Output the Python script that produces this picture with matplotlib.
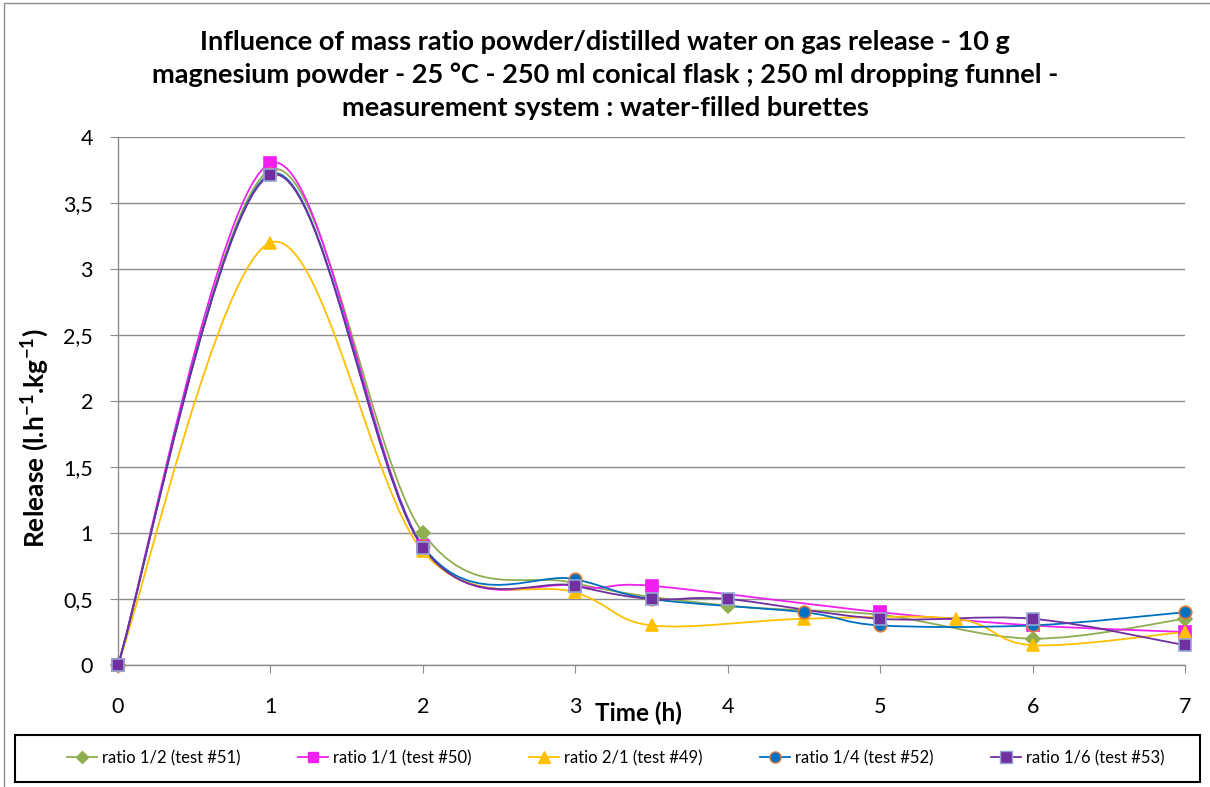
import numpy as np
import matplotlib
matplotlib.use("Agg")
import matplotlib.pyplot as plt
from matplotlib.path import Path
from matplotlib.patches import PathPatch, Rectangle
from matplotlib.lines import Line2D
from matplotlib.ticker import FixedLocator, FixedFormatter

plt.rcParams['font.family'] = ['Lato', 'DejaVu Sans']
plt.rcParams['mathtext.fontset'] = 'custom'
plt.rcParams['mathtext.rm'] = 'Lato'
plt.rcParams['mathtext.bf'] = 'Lato:bold'

# ---- data ----
title = ("Influence of mass ratio powder/distilled water on gas release - 10 g\n"
         "magnesium powder - 25 \u00b0C - 250 ml conical flask ; 250 ml dropping funnel -\n"
         "measurement system : water-filled burettes")
xlabel = "Time (h)"
ylabel = r"Release (l.h$^{\mathbf{-1}}$.kg$^{\mathbf{-1}}$)"

xticks = [0, 1, 2, 3, 4, 5, 6, 7]
xtick_labels = ["0", "1", "2", "3", "4", "5", "6", "7"]
yticks = [0, 0.5, 1, 1.5, 2, 2.5, 3, 3.5, 4]
ytick_labels = ["0", "0,5", "1", "1,5", "2", "2,5", "3", "3,5", "4"]

names = ["ratio 1/2 (test #51)", "ratio 1/1 (test #50)", "ratio 2/1 (test #49)",
         "ratio 1/4 (test #52)", "ratio 1/6 (test #53)"]

t_51 = [0, 1, 2, 3, 4, 5, 6, 7]
r_51 = [0, 3.75, 1.0, 0.62, 0.45, 0.38, 0.2, 0.35]

t_50 = [0, 1, 2, 3, 3.5, 5, 6, 7]
r_50 = [0, 3.8, 0.9, 0.6, 0.6, 0.4, 0.3, 0.25]

t_49 = [0, 1, 2, 3, 3.5, 4.5, 5.5, 6, 7]
r_49 = [0, 3.2, 0.86, 0.55, 0.3, 0.35, 0.35, 0.15, 0.25]

t_52 = [0, 1, 2, 3, 3.5, 4.5, 5, 6, 7]
r_52 = [0, 3.72, 0.9, 0.65, 0.5, 0.4, 0.3, 0.3, 0.4]

t_53 = [0, 1, 2, 3, 3.5, 4, 5, 6, 7]
r_53 = [0, 3.71, 0.89, 0.6, 0.5, 0.5, 0.35, 0.35, 0.15]

series_t = [t_51, t_50, t_49, t_52, t_53]
series_r = [r_51, r_50, r_49, r_52, r_53]

# ---- styles ----
line_colors = ["#8FAE4F", "#EE22EE", "#FFC000", "#0070C0", "#7030A0"]
face_colors = ["#8FAE4F", "#F01EF0", "#FFC000", "#0070C0", "#7030A0"]
edge_colors = ["#8FAE4F", "#F01EF0", "#FFC000", "#E07B39", "#95A6D5"]
markers = ["D", "s", "^", "o", "s"]
msizes = [7.5, 8.5, 9, 9, 9]


def smooth_path(xs, ys):
    """Excel-like smoothed line: Catmull-Rom style cubic Bezier segments."""
    p = np.column_stack([xs, ys]).astype(float)
    n = len(p)
    verts = [p[0]]
    codes = [Path.MOVETO]
    for i in range(n - 1):
        p0 = p[i - 1] if i > 0 else p[i]
        p1 = p[i]
        p2 = p[i + 1]
        p3 = p[i + 2] if i + 2 < n else p[i + 1]
        c1 = p1 + (p2 - p0) / 6.0
        c2 = p2 - (p3 - p1) / 6.0
        verts += [c1, c2, p2]
        codes += [Path.CURVE4] * 3
    return Path(verts, codes)


W, H = 1210, 787
fig = plt.figure(figsize=(W / 100, H / 100), dpi=100)
fig.patch.set_facecolor("white")
fig.patches.append(Rectangle((4 / W, -0.01), 1.02, 1 - 3 / H + 0.01,
                             transform=fig.transFigure, fill=False,
                             edgecolor="#8C8C8C", lw=1.0))

ax = fig.add_axes([118 / W, 1 - 665 / H, (1185 - 118) / W, (665 - 137) / H])
ax.set_xlim(0, 7)
ax.set_ylim(0, 4)

for t, r, lc, fc, ec, m, ms in zip(series_t, series_r, line_colors, face_colors,
                                  edge_colors, markers, msizes):
    patch = PathPatch(smooth_path(t, r), facecolor="none", edgecolor=lc, lw=1.3,
                      transform=ax.transData, clip_on=False)
    ax.add_patch(patch)
    ax.plot(t, r, linestyle="none", marker=m, markersize=ms, markerfacecolor=fc,
            markeredgecolor=ec, markeredgewidth=1.2, clip_on=False, zorder=3)

ax.yaxis.set_major_locator(FixedLocator(yticks))
ax.yaxis.set_major_formatter(FixedFormatter(ytick_labels))
ax.xaxis.set_major_locator(FixedLocator(xticks))
ax.xaxis.set_major_formatter(FixedFormatter(xtick_labels))

ax.grid(axis="y", color="#8C8C8C", lw=1.0)
ax.set_axisbelow(True)
for s in ["top", "right"]:
    ax.spines[s].set_visible(False)
for s in ["left", "bottom"]:
    ax.spines[s].set_color("#8C8C8C")
    ax.spines[s].set_linewidth(1.0)
ax.tick_params(axis="y", length=6, color="#8C8C8C", pad=12, labelsize=15.5)
ax.tick_params(axis="x", length=6, color="#8C8C8C", pad=17, labelsize=15.5)

ax.set_ylabel(ylabel, fontsize=19, fontweight="bold")
ax.yaxis.set_label_coords((35 - 118) / (1185 - 118), (665 - 438) / (665 - 137))
ax.yaxis.label.set_va("center")
ax.set_xlabel(xlabel, fontsize=17.5, fontweight="bold")
ax.xaxis.set_label_coords((638 - 118) / (1185 - 118), (665 - 713) / (665 - 137))
ax.xaxis.label.set_va("center")

fig.text(0.5, 1 - 75 / H, title, ha="center", va="center", fontsize=19.5,
         fontweight="bold", linespacing=1.45)

# legend box
fig.patches.append(Rectangle((15 / W, 1 - 782 / H), 1185 / W, 47 / H,
                             transform=fig.transFigure, fill=False,
                             edgecolor="black", lw=1.5))
handles = [Line2D([], [], color=lc, lw=1.3, marker=m, markersize=ms - 1,
                  markerfacecolor=fc, markeredgecolor=ec)
           for lc, fc, ec, m, ms in zip(line_colors, face_colors, edge_colors,
                                        markers, msizes)]
leg = fig.legend(handles, names, ncol=5, loc="center",
                 bbox_to_anchor=(616 / W, 1 - 758 / H),
                 fontsize=12, frameon=False,
                 handlelength=1.8, handletextpad=0.3, columnspacing=3.45,
                 borderaxespad=0)

fig.savefig("out.png", dpi=100)
